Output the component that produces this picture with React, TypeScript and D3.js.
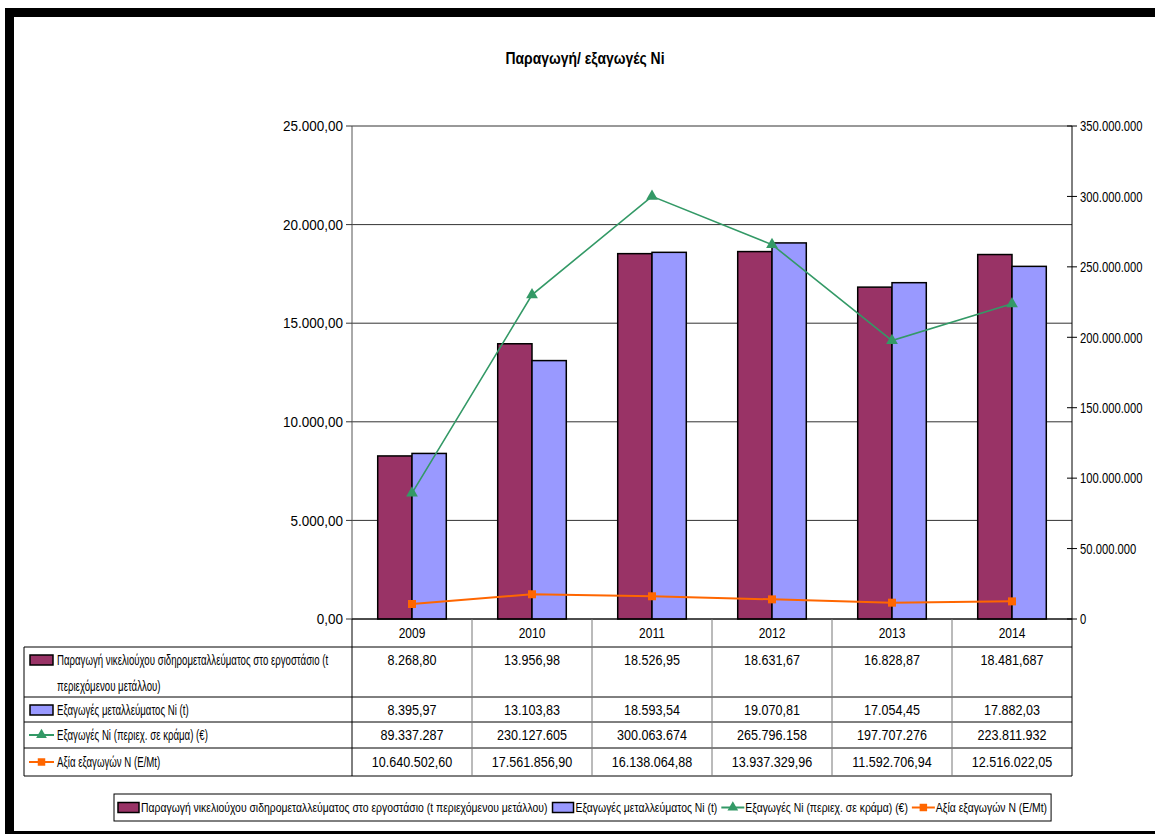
import React, { useEffect, useRef } from "react";
import * as d3 from "d3";

const years = ["2009", "2010", "2011", "2012", "2013", "2014"];
const production = [8268.80, 13956.98, 18526.95, 18631.67, 16828.87, 18481.687];
const oreExports = [8395.97, 13103.83, 18593.54, 19070.81, 17054.45, 17882.03];
const niExportsEur = [89337287, 230127605, 300063674, 265796158, 197707276, 223811932];
const exportValue = [10640502.60, 17561856.90, 16138064.88, 13937329.96, 11592706.94, 12516022.05];
const leftTicks = [0, 5000, 10000, 15000, 20000, 25000];
const rightTicks = [0, 50e6, 100e6, 150e6, 200e6, 250e6, 300e6, 350e6];

const title = "Παραγωγή/ εξαγωγές Ni";
const seriesNames = [
  "Παραγωγή νικελιούχου σιδηρομεταλλεύματος στο εργοστάσιο (t περιεχόμενου μετάλλου)",
  "Εξαγωγές μεταλλεύματος Ni (t)",
  "Εξαγωγές Ni (περιεχ. σε κράμα) (€)",
  "Αξία εξαγωγών N (E/Mt)",
];
const tableLabelLines = [
  ["Παραγωγή νικελιούχου σιδηρομεταλλεύματος στο εργοστάσιο (t", "περιεχόμενου μετάλλου)"],
  ["Εξαγωγές μεταλλεύματος Ni (t)"],
  ["Εξαγωγές Ni (περιεχ. σε κράμα) (€)"],
  ["Αξία εξαγωγών N (E/Mt)"],
];

const COLORS = ["#993366", "#9999FF", "#339966", "#FF6600"];
const FONT = "'Liberation Sans', Arial, sans-serif";

const locale = d3.formatLocale({ decimal: ",", thousands: ".", grouping: [3], currency: ["", "€"] });
function fmtVal(v: number) {
  if (Number.isInteger(v)) return locale.format(",.0f")(v);
  const frac = String(v).split(".")[1] || "";
  return locale.format(`,.${Math.max(2, frac.length)}f`)(v);
}

// condensed text helper (no narrow font available)
function ntext(g: any, x: number, y: number, s: string, anchor: string, size: number, k: number, weight = "normal") {
  return g.append("text")
    .attr("transform", `translate(${x},${y}) scale(${k},1)`)
    .attr("text-anchor", anchor).attr("dy", "0.35em")
    .attr("font-family", FONT).attr("font-size", size).attr("font-weight", weight)
    .attr("fill", "#000")
    .text(s);
}

export default function App() {
  const ref = useRef<SVGSVGElement>(null);
  useEffect(() => {
    document.body.style.margin = "0";
    const svg = d3.select(ref.current!);
    svg.selectAll("*").remove();
    const W = 1155, H = 834;
    const L = 352, R = 1072, T = 126, B = 619;

    svg.append("rect").attr("width", W).attr("height", H).attr("fill", "#fff");
    // frame
    svg.append("rect").attr("x", 5).attr("y", 8).attr("width", W - 5).attr("height", 9).attr("fill", "#000");
    svg.append("rect").attr("x", 5).attr("y", 8).attr("width", 9).attr("height", H - 8).attr("fill", "#000");
    svg.append("rect").attr("x", 5).attr("y", 831).attr("width", W - 5).attr("height", 3).attr("fill", "#000");

    ntext(svg, 585, 58, title, "middle", 17, 0.82, "bold");

    const x = d3.scaleBand().domain(years).range([L, R]).padding(0);
    const inner = d3.scaleBand().domain(["a", "b"]).range([0, x.bandwidth()]).paddingInner(0).paddingOuter(0.75);
    const yL = d3.scaleLinear().domain([0, 25000]).range([B, T]);
    const yR = d3.scaleLinear().domain([0, 350e6]).range([B, T]);

    // gridlines
    svg.append("g").selectAll("line").data(leftTicks).join("line")
      .attr("x1", L).attr("x2", R).attr("y1", d => yL(d)).attr("y2", d => yL(d))
      .attr("stroke", "#333").attr("stroke-width", 1);

    // bars
    const bars = svg.append("g");
    [production, oreExports].forEach((vals, si) => {
      bars.append("g").selectAll("rect").data(vals).join("rect")
        .attr("x", (d, i) => x(years[i])! + inner(si === 0 ? "a" : "b")!)
        .attr("y", d => yL(d))
        .attr("width", inner.bandwidth())
        .attr("height", d => B - yL(d))
        .attr("fill", COLORS[si]).attr("stroke", "#000").attr("stroke-width", 1.5);
    });

    // left axis
    const axL = svg.append("g");
    axL.append("line").attr("x1", L).attr("x2", L).attr("y1", T).attr("y2", B).attr("stroke", "#555");
    axL.selectAll("line.t").data(leftTicks).join("line").attr("class", "t")
      .attr("x1", L - 6).attr("x2", L).attr("y1", d => yL(d)).attr("y2", d => yL(d)).attr("stroke", "#333");
    leftTicks.forEach(t => ntext(axL, L - 9, yL(t), locale.format(",.2f")(t), "end", 15, 0.9));

    // right axis
    const axR = svg.append("g");
    axR.append("line").attr("x1", R).attr("x2", R).attr("y1", T).attr("y2", B).attr("stroke", "#000");
    axR.selectAll("line.t").data(rightTicks).join("line").attr("class", "t")
      .attr("x1", R - 5).attr("x2", R + 5).attr("y1", d => yR(d)).attr("y2", d => yR(d)).attr("stroke", "#000");
    rightTicks.forEach(t => ntext(axR, R + 8, yR(t), locale.format(",.0f")(t), "start", 15, 0.75));

    // lines
    const cx = (i: number) => x(years[i])! + x.bandwidth() / 2;
    const lineGen = d3.line<number>().x((d, i) => cx(i)).y(d => yR(d));
    const tri = d3.symbol().type(d3.symbolTriangle).size(60);
    const sq = d3.symbol().type(d3.symbolSquare).size(64);
    svg.append("path").datum(niExportsEur).attr("d", lineGen).attr("fill", "none")
      .attr("stroke", COLORS[2]).attr("stroke-width", 1.6);
    svg.append("g").selectAll("path").data(niExportsEur).join("path")
      .attr("transform", (d, i) => `translate(${cx(i)},${yR(d)})`).attr("d", tri()!).attr("fill", COLORS[2]);
    svg.append("path").datum(exportValue).attr("d", lineGen).attr("fill", "none")
      .attr("stroke", COLORS[3]).attr("stroke-width", 2);
    svg.append("g").selectAll("path").data(exportValue).join("path")
      .attr("transform", (d, i) => `translate(${cx(i)},${yR(d)})`).attr("d", sq()!).attr("fill", COLORS[3]);

    // data table
    const rowY = [619, 647, 697, 722, 748, 776];
    const TL = 24;
    const tbl = svg.append("g");
    tbl.append("line").attr("x1", L).attr("x2", R).attr("y1", rowY[0]).attr("y2", rowY[0]).attr("stroke", "#000");
    rowY.slice(1).forEach(y => {
      tbl.append("line").attr("x1", TL).attr("x2", R).attr("y1", y).attr("y2", y).attr("stroke", "#000");
    });
    tbl.append("line").attr("x1", TL).attr("x2", TL).attr("y1", rowY[1]).attr("y2", rowY[5]).attr("stroke", "#000");
    years.forEach((yr, i) => {
      tbl.append("line").attr("x1", x(yr)!).attr("x2", x(yr)!).attr("y1", rowY[0]).attr("y2", rowY[5]).attr("stroke", i === 0 ? "#000" : "#777");
    });
    tbl.append("line").attr("x1", R).attr("x2", R).attr("y1", rowY[0]).attr("y2", rowY[5]).attr("stroke", "#000");
    years.forEach((yr, i) => ntext(tbl, cx(i), 633, yr, "middle", 15, 0.8));
    const allSeries = [production, oreExports, niExportsEur, exportValue];
    const textY = [660, 710, 735, 762];
    allSeries.forEach((vals, si) => {
      const ty = textY[si];
      vals.forEach((v, i) => ntext(tbl, cx(i), ty, fmtVal(v), "middle", 15, 0.84));
      drawKey(tbl, si, 29, ty, 25);
      tableLabelLines[si].forEach((ln, li) => {
        ntext(tbl, 57, ty + li * 26, ln, "start", 14, 0.69);
      });
    });

    // legend
    const lg = svg.append("g");
    const box = lg.append("rect").attr("y", 794).attr("height", 27).attr("fill", "#fff").attr("stroke", "#000");
    let cur = 117;
    const ly = 807.5;
    const kL = 0.8;
    seriesNames.forEach((nm, si) => {
      drawKey(lg, si, cur, ly, 23);
      const t = ntext(lg, cur + 24, ly, nm, "start", 13, kL);
      const w = (t.node() as SVGTextElement).getComputedTextLength() * kL;
      cur = cur + 24 + w + 4;
    });
    const boxL = 114;
    box.attr("x", boxL).attr("width", cur - boxL);
  }, []);

  function drawKey(g: any, si: number, x0: number, yc: number, w: number) {
    if (si < 2) {
      g.append("rect").attr("x", x0 + 1).attr("y", yc - 5).attr("width", w - 2).attr("height", 10)
        .attr("fill", COLORS[si]).attr("stroke", "#000").attr("stroke-width", 1.5);
    } else {
      g.append("line").attr("x1", x0).attr("x2", x0 + w).attr("y1", yc).attr("y2", yc)
        .attr("stroke", COLORS[si]).attr("stroke-width", 2);
      const s = d3.symbol().type(si === 2 ? d3.symbolTriangle : d3.symbolSquare).size(si === 2 ? 50 : 56);
      g.append("path").attr("transform", `translate(${x0 + w / 2},${yc})`).attr("d", s()!).attr("fill", COLORS[si]);
    }
  }

  return <svg ref={ref} width={1155} height={834} style={{ display: "block" }} />;
}
